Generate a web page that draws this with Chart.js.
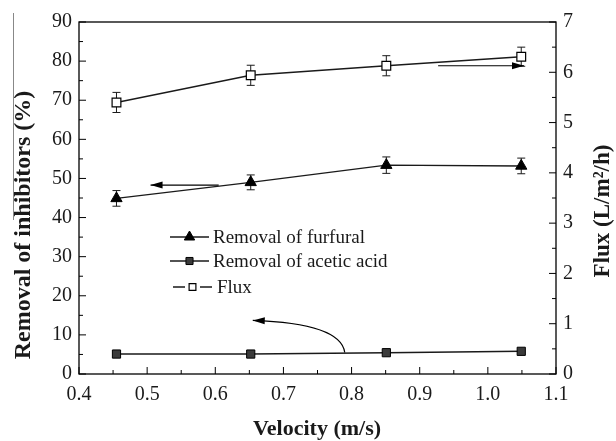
<!DOCTYPE html>
<html>
<head>
<meta charset="utf-8">
<script src="https://cdn.jsdelivr.net/npm/chart.js@4.4.0/dist/chart.umd.min.js"></script>
<style>
  html, body { margin: 0; padding: 0; background: #fff; }
  #wrap { width: 616px; height: 441px; }
</style>
</head>
<body>
<div id="wrap"><canvas id="chart" width="616" height="441"></canvas></div>
<script>
// data
const velocity = [0.455, 0.652, 0.851, 1.049];
const furfural = [44.9, 49.0, 53.4, 53.2];
const furfuralErr = [2.0, 1.9, 2.1, 2.0];
const acetic = [5.1, 5.1, 5.45, 5.8];
const aceticErr = [0, 0, 0, 0];
const flux = [5.40, 5.94, 6.13, 6.31];
const fluxErr = [0.2, 0.2, 0.2, 0.19];

const xTicks = [0.4, 0.5, 0.6, 0.7, 0.8, 0.9, 1.0, 1.1];
const leftTitle = 'Removal of inhibitors (%)';
const rightTitle = 'Flux (L/m\u00B2/h)';
const bottomTitle = 'Velocity (m/s)';

// arrows in data coordinates (axis, points)
const arrows = [
    { axis: 'y', pts: [[0.605, 48.3], [0.505, 48.3]] },
    { axis: 'y2', pts: [[0.927, 6.13], [1.053, 6.13]] },
    { axis: 'y', pts: [[0.79, 5.5], [0.786, 10.5], [0.74, 13.2], [0.655, 13.7]] }
];

const serif = '"Liberation Serif", "DejaVu Serif", serif';
const ink = '#1a1a1a';

function toPts(series, err) {
    return velocity.map((v, i) => ({ x: v, y: series[i], e: err[i] }));
}

const datasets = [
    {
        label: 'Removal of furfural', yAxisID: 'y', data: toPts(furfural, furfuralErr),
        borderColor: ink, borderWidth: 1.4, pointStyle: 'triangle', pointRadius: 6.5,
        pointBackgroundColor: '#000', pointBorderColor: '#000', pointBorderWidth: 1
    },
    {
        label: 'Removal of acetic acid', yAxisID: 'y', data: toPts(acetic, aceticErr),
        borderColor: ink, borderWidth: 1.4, pointStyle: 'rect', pointRadius: 5.8,
        pointBackgroundColor: '#3a3a3a', pointBorderColor: '#000', pointBorderWidth: 1
    },
    {
        label: 'Flux', yAxisID: 'y2', data: toPts(flux, fluxErr),
        borderColor: ink, borderWidth: 1.4, pointStyle: 'rect', pointRadius: 6.2,
        pointBackgroundColor: '#fff', pointBorderColor: '#000', pointBorderWidth: 1.2
    }
];

// error bars under the markers
const errorBars = {
    id: 'errorBars',
    beforeDatasetsDraw(chart) {
        const ctx = chart.ctx;
        ctx.save();
        ctx.strokeStyle = ink;
        ctx.lineWidth = 1;
        chart.data.datasets.forEach(ds => {
            const sy = chart.scales[ds.yAxisID];
            ds.data.forEach(p => {
                if (!p.e) return;
                const x = chart.scales.x.getPixelForValue(p.x);
                const y1 = sy.getPixelForValue(p.y + p.e);
                const y2 = sy.getPixelForValue(p.y - p.e);
                ctx.beginPath();
                ctx.moveTo(x, y1); ctx.lineTo(x, y2);
                ctx.moveTo(x - 4, y1); ctx.lineTo(x + 4, y1);
                ctx.moveTo(x - 4, y2); ctx.lineTo(x + 4, y2);
                ctx.stroke();
            });
        });
        ctx.restore();
    }
};

function rotatedText(ctx, txt, x, y) {
    ctx.save();
    ctx.translate(x, y);
    ctx.rotate(-Math.PI / 2);
    ctx.fillText(txt, 0, 0);
    ctx.restore();
}

// frame, inward ticks, titles, arrows, legend
const decor = {
    id: 'decor',
    afterDraw(chart) {
        const ctx = chart.ctx;
        const a = chart.chartArea;
        const sx = chart.scales.x, sy = chart.scales.y, sy2 = chart.scales.y2;
        ctx.save();
        ctx.strokeStyle = '#000';
        ctx.lineWidth = 1.3;
        ctx.strokeRect(a.left, a.top, a.right - a.left, a.bottom - a.top);

        ctx.lineWidth = 1;
        ctx.beginPath();
        for (let v = 0; v <= 90.01; v += 5) {
            const y = sy.getPixelForValue(v);
            const len = (Math.round(v) % 10 === 0) ? 7 : 4;
            ctx.moveTo(a.left, y); ctx.lineTo(a.left + len, y);
        }
        for (let v = 0; v <= 7.01; v += 0.5) {
            const y = sy2.getPixelForValue(v);
            const len = (Math.abs(v - Math.round(v)) < 0.01) ? 7 : 4;
            ctx.moveTo(a.right, y); ctx.lineTo(a.right - len, y);
        }
        for (let v = 0.4; v <= 1.101; v += 0.05) {
            const x = sx.getPixelForValue(v);
            const major = Math.abs(v * 10 - Math.round(v * 10)) < 0.01;
            ctx.moveTo(x, a.bottom); ctx.lineTo(x, a.bottom - (major ? 7 : 4));
        }
        ctx.stroke();

        // stray scan edge at top left
        ctx.strokeStyle = '#888';
        ctx.lineWidth = 1;
        ctx.beginPath();
        ctx.moveTo(13.5, 13); ctx.lineTo(13.5, 220);
        ctx.stroke();

        // titles
        ctx.fillStyle = ink;
        ctx.textAlign = 'center';
        ctx.textBaseline = 'middle';
        ctx.font = 'bold 22px ' + serif;
        ctx.fillText(bottomTitle, 317, 429);
        ctx.font = 'bold 24px ' + serif;
        rotatedText(ctx, leftTitle, 24, 225);
        ctx.font = 'bold 23px ' + serif;
        rotatedText(ctx, rightTitle, 603, 211);

        // arrows
        ctx.strokeStyle = '#000';
        ctx.fillStyle = '#000';
        ctx.lineWidth = 1.2;
        arrows.forEach(ar => {
            const s = chart.scales[ar.axis];
            const p = ar.pts.map(q => [sx.getPixelForValue(q[0]), s.getPixelForValue(q[1])]);
            ctx.beginPath();
            ctx.moveTo(p[0][0], p[0][1]);
            if (p.length === 4) ctx.bezierCurveTo(p[1][0], p[1][1], p[2][0], p[2][1], p[3][0], p[3][1]);
            else ctx.lineTo(p[1][0], p[1][1]);
            ctx.stroke();
            const end = p[p.length - 1], prev = p[p.length - 2];
            const ang = Math.atan2(end[1] - prev[1], end[0] - prev[0]);
            ctx.save();
            ctx.translate(end[0], end[1]);
            ctx.rotate(ang);
            ctx.beginPath();
            ctx.moveTo(0, 0); ctx.lineTo(-12, -3.5); ctx.lineTo(-12, 3.5); ctx.closePath();
            ctx.fill();
            ctx.restore();
        });

        // legend
        const rows = [237, 261, 287];
        const lines = [[170, 209, 213], [170, 209, 213], [173, 212, 217]];
        const sizes = [6, 5, 4.8];
        ctx.font = '19px ' + serif;
        ctx.textAlign = 'left';
        chart.data.datasets.forEach((ds, i) => {
            const y = rows[i], l = lines[i];
            ctx.strokeStyle = ink;
            ctx.lineWidth = 1.4;
            ctx.beginPath();
            if (i === 2) {
                ctx.moveTo(l[0], y); ctx.lineTo(l[0] + 12, y);
                ctx.moveTo(l[1] - 12, y); ctx.lineTo(l[1], y);
            } else {
                ctx.moveTo(l[0], y); ctx.lineTo(l[1], y);
            }
            ctx.stroke();
            ctx.fillStyle = ds.pointBackgroundColor;
            ctx.strokeStyle = ds.pointBorderColor;
            ctx.lineWidth = ds.pointBorderWidth;
            Chart.helpers.drawPoint(ctx, {
                pointStyle: ds.pointStyle, rotation: 0, radius: sizes[i], borderWidth: ds.pointBorderWidth
            }, (l[0] + l[1]) / 2, y);
            ctx.fillStyle = ink;
            ctx.fillText(ds.label, l[2], y + 1);
        });
        ctx.restore();
    }
};

const tickFont = { family: serif, size: 20 };

new Chart(document.getElementById('chart'), {
    type: 'line',
    data: { datasets: datasets },
    options: {
        responsive: false,
        animation: false,
        layout: { padding: { top: 22, left: 0, right: 0, bottom: 0 } },
        plugins: { legend: { display: false }, tooltip: { enabled: false } },
        scales: {
            x: {
                type: 'linear', min: 0.4, max: 1.1,
                afterBuildTicks: s => { s.ticks = xTicks.map(v => ({ value: v })); },
                afterFit: s => { s.height = 67; },
                grid: { display: false, drawTicks: false },
                border: { display: false },
                ticks: { padding: 9, color: ink, font: tickFont, callback: v => v.toFixed(1) }
            },
            y: {
                position: 'left', min: 0, max: 90,
                afterFit: s => { s.width = 79; },
                grid: { display: false, drawTicks: false },
                border: { display: false },
                ticks: { stepSize: 10, padding: 7, color: ink, font: tickFont }
            },
            y2: {
                position: 'right', min: 0, max: 7,
                afterFit: s => { s.width = 60; },
                grid: { display: false, drawTicks: false },
                border: { display: false },
                ticks: { stepSize: 1, padding: 7, color: ink, font: tickFont }
            }
        }
    },
    plugins: [errorBars, decor]
});
</script>
</body>
</html>
